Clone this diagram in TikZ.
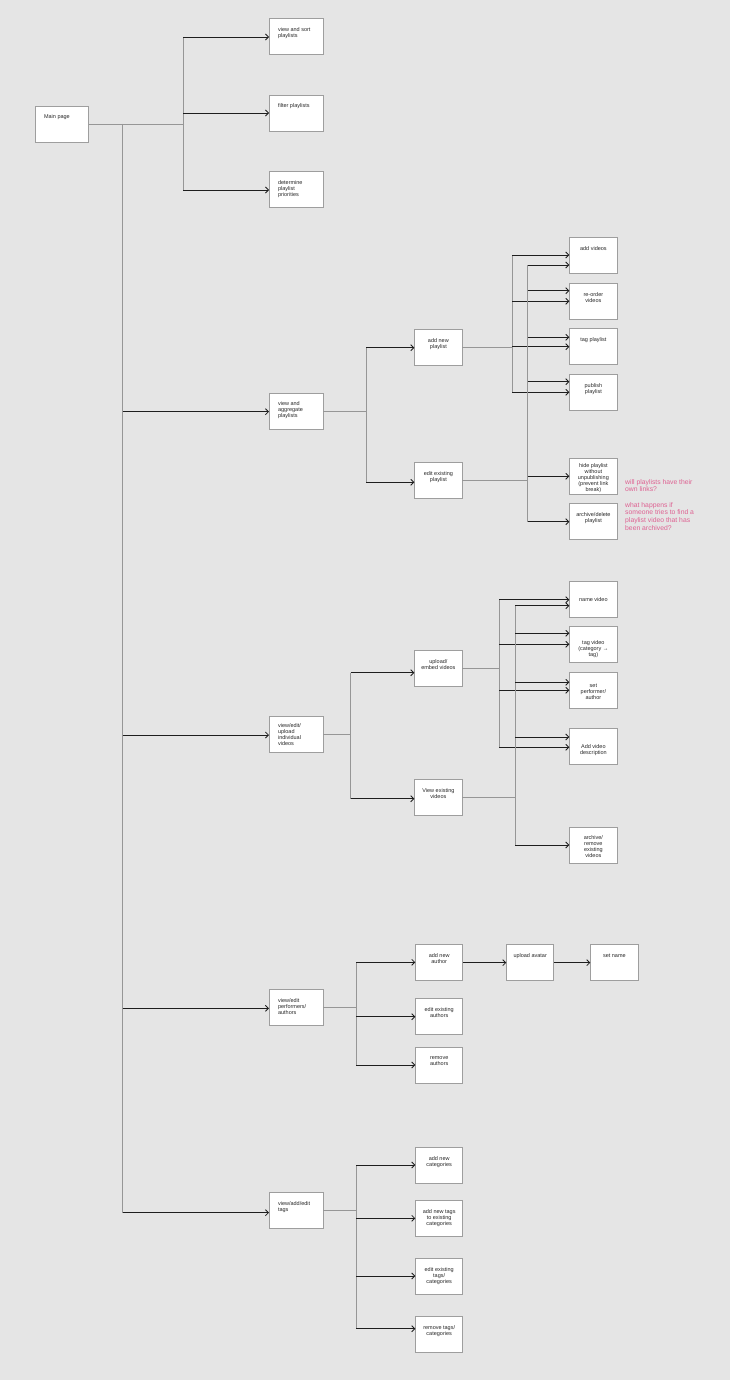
\documentclass[tikz,border=0pt]{standalone}
\usepackage{fontspec}
\setmainfont{Liberation Sans}
\usetikzlibrary{arrows.meta}
\definecolor{bg}{RGB}{229,229,229}
\definecolor{boxgray}{RGB}{158,158,158}
\definecolor{lgray}{RGB}{150,150,150}
\definecolor{darkline}{RGB}{30,30,30}
\definecolor{textgray}{RGB}{40,40,40}
\definecolor{notepink}{RGB}{222,98,146}
\newcommand\ctext[3]{\parbox[c][36pt][t]{#1}{\centering\fontsize{5.5}{6}\selectfont\rule{0pt}{#2}#3\par}}
\newcommand\ltext[3]{\parbox[c][36pt][t]{#1}{\raggedright\leftskip=8.7pt\fontsize{5.5}{6}\selectfont\rule{0pt}{#2}#3\par}}
\newcommand\arr[3]{\path (0,#3) coordinate (ty); \draw[aline] (#1 |- ty) -- (#2.west |- ty);}
\newcommand\vseg[3]{\path (0,#2) coordinate (ya) (0,#3) coordinate (yb); \draw[gline] (#1 |- ya) -- (#1 |- yb);}
\newcommand\feed[2]{\draw[gline] (#1.east) -- (#1.east -| #2);}
\tikzset{
  box/.style={draw=boxgray, fill=white, line width=0.75pt, inner sep=0pt, anchor=north west, text=textgray},
  gline/.style={draw=lgray, line width=0.75pt},
  aline/.style={draw=darkline, line width=0.85pt, -{Straight Barb[length=3pt,width=6pt]}},
  note/.style={inner sep=0pt, anchor=north west, text=notepink},
}
\begin{document}
\begin{tikzpicture}[x=1pt,y=-1pt]
\fill[bg] (0,0) rectangle (730,1380);
\useasboundingbox (0,0) rectangle (730,1380);

% junction coordinates
\coordinate (T) at (122.7,0);
\coordinate (J0) at (183,0);
\coordinate (J2) at (366.3,0);
\coordinate (Ja) at (512.3,0);
\coordinate (Jb) at (527.7,0);
\coordinate (J3) at (350.7,0);
\coordinate (Jc) at (499,0);
\coordinate (Jd) at (515,0);
\coordinate (J4) at (356.3,0);
\coordinate (J5) at (356.3,0);

% main and level 1
\node[box] (main) at (35,106) {\ltext{53pt}{12.6pt}{Main page}};
\node[box] (viewsort) at (269,18.3) {\ltext{53.5pt}{12.8pt}{view and sort\\playlists}};
\node[box] (filter) at (269,95.3) {\ltext{53.5pt}{12pt}{filter playlists}};
\node[box] (determine) at (269,171.3) {\ltext{53.5pt}{12.4pt}{determine\\playlist\\priorities}};
\node[box] (aggregate) at (269,393.3) {\ltext{53.5pt}{12pt}{view and\\aggregate\\playlists}};
\node[box] (indiv) at (269,716) {\ltext{53.5pt}{11.6pt}{view/edit/\\upload\\individual\\videos}};
\node[box] (performers) at (269,989.3) {\ltext{53.5pt}{12.6pt}{view/edit\\performers/\\authors}};
\node[box] (tags) at (269,1192.3) {\ltext{53.5pt}{12.8pt}{view/add/edit\\tags}};

% section 2
\node[box] (addpl) at (414.3,329.3) {\ctext{47.4pt}{12.8pt}{add new\\playlist}};
\node[box] (editpl) at (414.3,462.3) {\ctext{47.4pt}{12.6pt}{edit existing\\playlist}};
\node[box] (addvid) at (569.3,237.3) {\ctext{47.4pt}{12.4pt}{add videos}};
\node[box] (reorder) at (569.3,283.3) {\ctext{47.4pt}{12.6pt}{re-order\\videos}};
\node[box] (tagpl) at (569.3,328.3) {\ctext{47.4pt}{12.8pt}{tag playlist}};
\node[box] (publish) at (569.3,374.3) {\ctext{47.4pt}{12.4pt}{publish\\playlist}};
\node[box] (hide) at (569.3,458.3) {\ctext{47.4pt}{8.6pt}{hide playlist\\without\\unpublishing\\(prevent link\\break)}};
\node[box] (archpl) at (569.3,503.3) {\ctext{47.4pt}{12.6pt}{archive/delete\\playlist}};

\node[note] (q1) at (625,478) {\parbox[t]{100pt}{\raggedright\fontsize{6.8}{7.67}\selectfont\rule{0pt}{6pt}will playlists have their\\own links?}};
\node[note] (q2) at (625,501.1) {\parbox[t]{100pt}{\raggedright\fontsize{6.8}{7.67}\selectfont\rule{0pt}{6pt}what happens if\\someone tries to find a\\playlist video that has\\been archived?}};

% section 3
\node[box] (upembed) at (414.3,650.3) {\ctext{47.4pt}{13.3pt}{upload/\\embed videos}};
\node[box] (viewex) at (414.3,779.3) {\ctext{47.4pt}{12.6pt}{View existing\\videos}};
\node[box] (namevid) at (569.3,581.3) {\ctext{47.4pt}{19.9pt}{name video}};
\node[box] (tagvid) at (569.3,626.3) {\ctext{47.4pt}{18.3pt}{tag video\\(category → \\tag)}};
\node[box] (setperf) at (569.3,672.3) {\ctext{47.4pt}{14.6pt}{set\\performer/\\author}};
\node[box] (adddesc) at (569.3,728.3) {\ctext{47.4pt}{19.6pt}{Add video\\description}};
\node[box] (archvid) at (569.3,826.7) {\ctext{47.4pt}{12.5pt}{archive/\\remove\\existing\\videos}};

% section 4
\node[box] (addauth) at (415.3,944.3) {\ctext{47pt}{12.8pt}{add new\\author}};
\node[box] (upavatar) at (506.3,944.3) {\ctext{47pt}{12.8pt}{upload avatar}};
\node[box] (setname) at (590.3,944.3) {\ctext{47.4pt}{12.8pt}{set name}};
\node[box] (editauth) at (415.3,998.3) {\ctext{47pt}{12.6pt}{edit existing\\authors}};
\node[box] (remauth) at (415.3,1046.7) {\ctext{47pt}{12.8pt}{remove\\authors}};

% section 5
\node[box] (addcat) at (415.3,1147.3) {\ctext{47pt}{12.8pt}{add new\\categories}};
\node[box] (addtags) at (415.3,1200.3) {\ctext{47pt}{12.6pt}{add new tags\\to existing\\categories}};
\node[box] (editcat) at (415.3,1258.3) {\ctext{47pt}{12.6pt}{edit existing\\tags/\\categories}};
\node[box] (remtags) at (415.3,1316.3) {\ctext{47pt}{12.6pt}{remove tags/\\categories}};

% ---- connectors ----
% main
\feed{main}{J0}
\vseg{J0}{37}{190}
\arr{J0}{viewsort}{37}
\arr{J0}{filter}{113}
\arr{J0}{determine}{190}
\vseg{T}{124}{1212.7}
\arr{T}{aggregate}{411.7}
\arr{T}{indiv}{735}
\arr{T}{performers}{1008.3}
\arr{T}{tags}{1212.7}

% section 2
\feed{aggregate}{J2}
\vseg{J2}{347.7}{482.3}
\arr{J2}{addpl}{347.7}
\arr{J2}{editpl}{482.3}
\feed{addpl}{Ja}
\vseg{Ja}{255}{392.3}
\arr{Ja}{addvid}{255}
\arr{Ja}{reorder}{301.3}
\arr{Ja}{tagpl}{346.7}
\arr{Ja}{publish}{392.3}
\feed{editpl}{Jb}
\vseg{Jb}{265}{521.7}
\arr{Jb}{addvid}{265}
\arr{Jb}{reorder}{290.7}
\arr{Jb}{tagpl}{337.3}
\arr{Jb}{publish}{381.7}
\arr{Jb}{hide}{476.3}
\arr{Jb}{archpl}{521.7}

% section 3
\feed{indiv}{J3}
\vseg{J3}{672.7}{798.7}
\arr{J3}{upembed}{672.7}
\arr{J3}{viewex}{798.7}
\feed{upembed}{Jc}
\vseg{Jc}{599.7}{747.3}
\arr{Jc}{namevid}{599.7}
\arr{Jc}{tagvid}{644.3}
\arr{Jc}{setperf}{690.3}
\arr{Jc}{adddesc}{747.3}
\feed{viewex}{Jd}
\vseg{Jd}{605.7}{845}
\arr{Jd}{namevid}{605.7}
\arr{Jd}{tagvid}{633.3}
\arr{Jd}{setperf}{682.3}
\arr{Jd}{adddesc}{737}
\arr{Jd}{archvid}{845}

% section 4
\feed{performers}{J4}
\vseg{J4}{962.3}{1065}
\arr{J4}{addauth}{962.3}
\arr{J4}{editauth}{1016.7}
\arr{J4}{remauth}{1065}
\draw[aline] (addauth.east) -- (upavatar.west);
\draw[aline] (upavatar.east) -- (setname.west);

% section 5
\feed{tags}{J5}
\vseg{J5}{1165}{1328.7}
\arr{J5}{addcat}{1165}
\arr{J5}{addtags}{1218.3}
\arr{J5}{editcat}{1276}
\arr{J5}{remtags}{1328.7}
\end{tikzpicture}
\end{document}
